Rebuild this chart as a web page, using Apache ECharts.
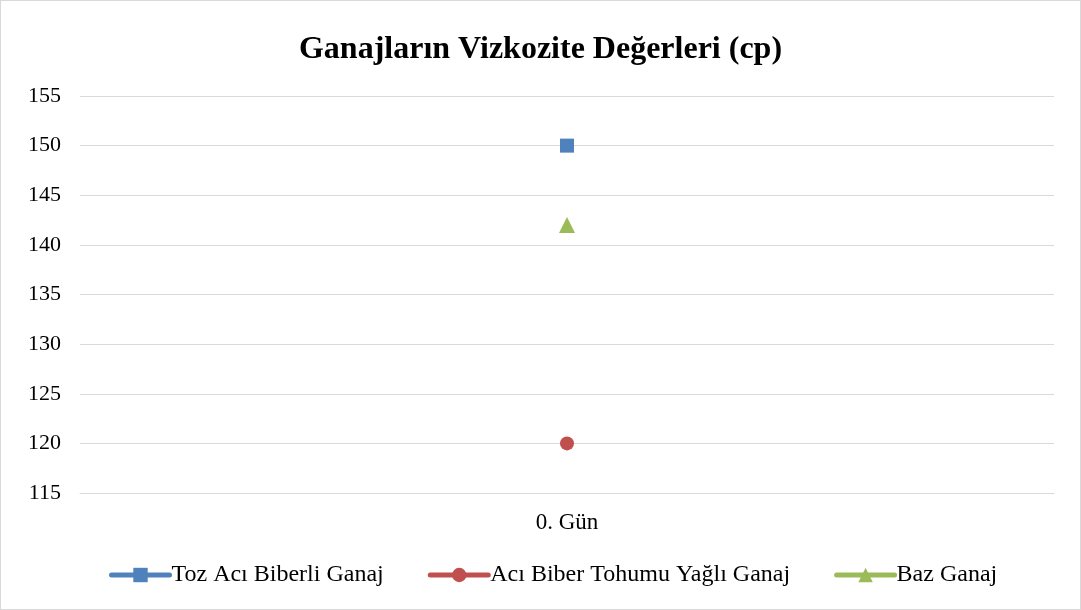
<!DOCTYPE html>
<html><head><meta charset="utf-8">
<script src="https://cdn.jsdelivr.net/npm/echarts@6/dist/echarts.min.js"></script>
<style>html,body{margin:0;padding:0;background:#fff}#c{width:1081px;height:610px;box-sizing:border-box;border:1px solid #d9d9d9}</style>
</head><body><div id="c"></div>
<script>
const categories = ['0. Gün'];
const seriesNames = ['Toz Acı Biberli Ganaj', 'Acı Biber Tohumu Yağlı Ganaj', 'Baz Ganaj'];
const tozAciBiberli = [150];
const aciBiberTohumu = [120];
const bazGanaj = [142];
const colors = ['#4F81BD', '#C0504D', '#9BBB59'];
const symbols = ['rect', 'circle', 'triangle'];
const allData = [tozAciBiberli, aciBiberTohumu, bazGanaj];
const font = 'Liberation Serif, Times New Roman, serif';
const chart = echarts.init(document.getElementById('c'));
chart.setOption({
  animation: false,
  title: { text: 'Ganajların Vizkozite Değerleri (cp)', left: 'center', top: 28,
    textStyle: { fontFamily: font, fontSize: 32, fontWeight: 'bold', color: '#000' } },
  grid: { left: 79, right: 26, top: 95, bottom: 116, containLabel: false },
  legend: { bottom: 17, left: 103, itemWidth: 58, itemHeight: 18, itemGap: 44,
    lineStyle: { width: 5, cap: 'round' },
    textStyle: { fontFamily: font, fontSize: 24, color: '#000', padding: [0,0,0,-3] },
    data: seriesNames },
  xAxis: { type: 'category', data: categories, boundaryGap: true,
    axisLine: { lineStyle: { color: '#d9d9d9', width: 1 } }, axisTick: { show: false },
    axisLabel: { fontFamily: font, fontSize: 23, color: '#000', margin: 18 } },
  yAxis: { type: 'value', min: 115, max: 155, interval: 5,
    axisLine: { show: false }, axisTick: { show: false },
    splitLine: { lineStyle: { color: '#d9d9d9', width: 1 } },
    axisLabel: { fontFamily: font, fontSize: 22, color: '#000', margin: 19 } },
  series: seriesNames.map((n, i) => ({
    name: n, type: 'line', data: allData[i], symbol: symbols[i],
    symbolSize: i === 2 ? 16 : 14,
    itemStyle: { color: colors[i] }, lineStyle: { color: colors[i], width: 5 }
  }))
});
</script></body></html>
